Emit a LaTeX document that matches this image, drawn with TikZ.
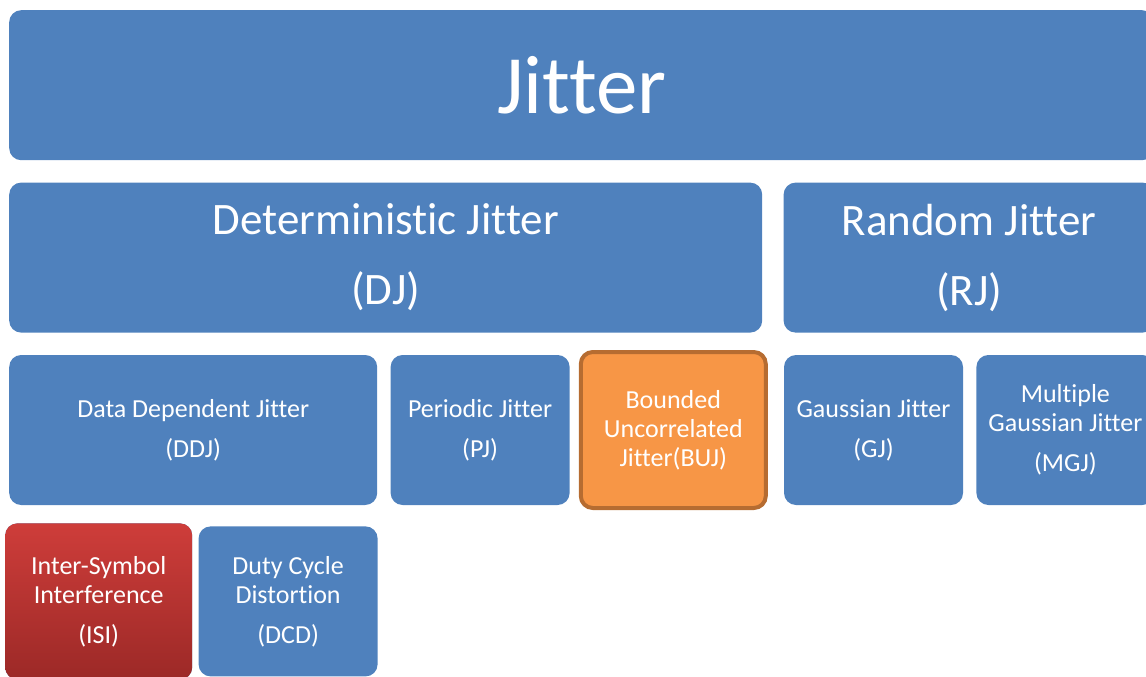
\documentclass[tikz,border=0pt]{standalone}
\usepackage{fontspec}
\setmainfont[Ligatures=NoCommon]{Carlito}
\usetikzlibrary{positioning}
\definecolor{tileblue}{RGB}{79,129,189}
\definecolor{bujorange}{RGB}{247,150,70}
\definecolor{bujedge}{RGB}{182,108,49}
\definecolor{isitop}{RGB}{206,61,58}
\definecolor{isibottom}{RGB}{156,41,39}
\newcommand{\tiletxt}{\fontsize{26}{29}\selectfont}
\newcommand{\midtxt}{\fontsize{45}{54}\selectfont}
\newcommand{\toptxt}{\fontsize{83}{96}\selectfont}

\begin{document}
\begin{tikzpicture}[x=1pt, y=-1pt, node distance=13pt]
    \tikzstyle{tile}=[fill=tileblue,rounded corners=12pt,text=white,align=center,inner sep=0pt,minimum height=150pt,font=\tiletxt]
    \tikzstyle{bigtile}=[tile,font=\midtxt]

    \useasboundingbox (0,0) rectangle (1146,677);

    % top level
    \node[tile,font=\toptxt,minimum width=1145pt,anchor=north west] (jitter) at (9,10) {Jitter};

    % second row
    \node[bigtile,minimum width=753pt,below=22pt of jitter.south west,anchor=north west] (dj) {Deterministic Jitter\\[16pt](DJ)};
    \node[bigtile,minimum width=371pt,right=21pt of dj] (rj) {Random Jitter\\[16pt](RJ)};

    % third row
    \node[tile,minimum width=368pt,below=22pt of dj.south west,anchor=north west] (ddj) {Data Dependent Jitter\\[11pt](DDJ)};
    \node[tile,minimum width=179pt,right=of ddj] (pj) {Periodic Jitter\\[11pt](PJ)};
    \node[tile,fill=bujorange,draw=bujedge,line width=4pt,minimum width=185pt,minimum height=156pt,right=9pt of pj] (buj) {Bounded\\Uncorrelated\\Jitter(BUJ)};
    \node[tile,minimum width=179pt,right=16pt of buj] (gj) {Gaussian Jitter\\[11pt](GJ)};
    \node[tile,minimum width=178pt,right=of gj] (mgj) {Multiple\\Gaussian Jitter\\[11pt](MGJ)};

    % fourth row
    \node[tile,top color=isitop,bottom color=isibottom,minimum width=187pt,minimum height=156pt,anchor=north west] (isi) at ([xshift=-4pt,yshift=-18pt]ddj.south west) {Inter-Symbol\\Interference\\[11pt](ISI)};
    \node[tile,minimum width=179pt,right=6pt of isi] (dcd) {Duty Cycle\\Distortion\\[11pt](DCD)};

\end{tikzpicture}
\end{document}
